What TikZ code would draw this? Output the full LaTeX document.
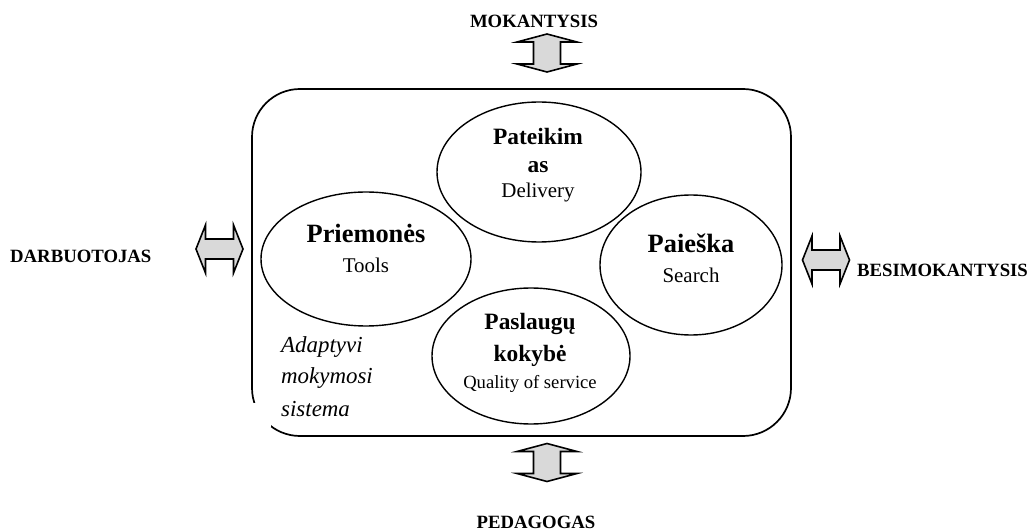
\documentclass[tikz,border=0pt]{standalone}
\usepackage{fontspec}
\setmainfont{Liberation Serif}
\usetikzlibrary{shapes.geometric}
\definecolor{arrowgray}{HTML}{D9D9D9}
\begin{document}
\begin{tikzpicture}[x=1bp,y=-1bp,
  oval/.style={ellipse,draw,line width=1.4bp,inner sep=0pt},
  blockarrow/.style={draw,fill=arrowgray,line width=1.6bp,line join=miter},
  caplabel/.style={font=\fontsize{18.8}{20}\selectfont\bfseries,inner sep=0pt},
  bigtitle/.style={font=\fontsize{26.5}{28}\selectfont\bfseries,inner sep=0pt,anchor=base},
  midtitle/.style={font=\fontsize{23.5}{26}\selectfont\bfseries,inner sep=0pt,anchor=base},
  subtitle/.style={font=\fontsize{21}{24}\selectfont,inner sep=0pt,anchor=base},
  smalltitle/.style={font=\fontsize{18.7}{22}\selectfont,inner sep=0pt,anchor=base},
  systext/.style={font=\fontsize{23}{26}\selectfont\itshape,inner sep=0pt,anchor=base west},
  vdarrow/.pic={\draw[blockarrow] (0,-19) -- (30,-11) -- (13.5,-11) -- (13.5,11) -- (30,11) -- (0,19)
        -- (-30,11) -- (-13.5,11) -- (-13.5,-11) -- (-30,-11) -- cycle;},
  hdarrow/.pic={\draw[blockarrow] (-23.5,0) -- (-14,-24) -- (-14,-10) -- (14,-10) -- (14,-24) -- (23.5,0)
        -- (14,24) -- (14,10) -- (-14,10) -- (-14,24) -- cycle;}
]
\useasboundingbox (0,0) rectangle (1035,532);

% system frame
\draw[line width=1.7bp,rounded corners=48bp] (252,89) rectangle (791,436);
\fill[white] (248,403) rectangle (271,427);

% ellipses
\node[oval,minimum width=204bp,minimum height=140bp] (pat) at (539,172) {};
\node[oval,minimum width=210bp,minimum height=134bp] (prie) at (366,259) {};
\node[oval,minimum width=182bp,minimum height=140bp] (paie) at (691,265) {};
\node[oval,minimum width=198bp,minimum height=136bp] (pasl) at (531,356) {};

% ellipse texts
\node[midtitle] (patA) at (538,145) {Pateikim};
\node[midtitle] (patB) at (538,173) {as};
\node[subtitle] (patC) at (538,198) {Delivery};

\node[bigtitle] (prieA) at (366,243) {Priemonės};
\node[subtitle] (prieB) at (366,273) {Tools};

\node[bigtitle] (paieA) at (691,253) {Paieška};
\node[subtitle] (paieB) at (691,283) {Search};

\node[midtitle] (paslA) at (530,330) {Paslaugų};
\node[midtitle] (paslB) at (530,362) {kokybė};
\node[smalltitle] (paslC) at (530,388) {Quality of service};

\node[systext] (sysA) at (281,353) {Adaptyvi};
\node[systext] (sysB) at (281,384) {mokymosi};
\node[systext] (sysC) at (281,416) {sistema};

% outside actors
\node[caplabel,anchor=base] (mok) at (534,28) {MOKANTYSIS};
\node[caplabel,anchor=base] (ped) at (536,528) {PEDAGOGAS};
\node[caplabel,anchor=base west] (darb) at (10,263) {DARBUOTOJAS};
\node[caplabel,anchor=base west] (besi) at (857,277) {BESIMOKANTYSIS};

% block arrows
\pic at (547,53) {vdarrow};
\pic at (547,462.5) {vdarrow};
\pic at (219.5,249) {hdarrow};
\pic at (826,260) {hdarrow};
\end{tikzpicture}
\end{document}
